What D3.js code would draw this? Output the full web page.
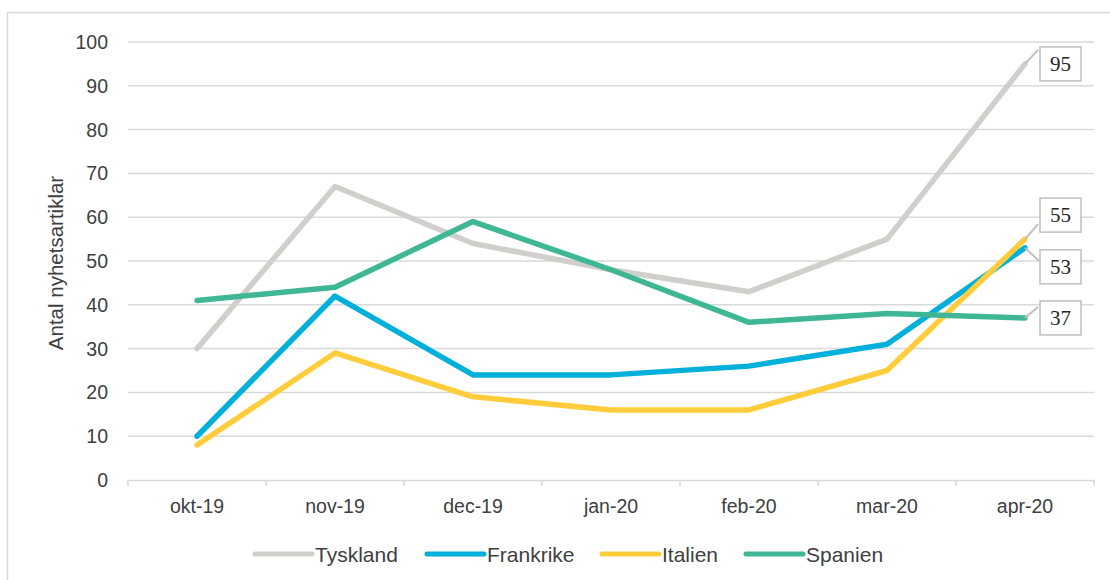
<!DOCTYPE html>
<html>
<head>
<meta charset="utf-8">
<script src="https://cdn.jsdelivr.net/npm/d3@7"></script>
<style>
  body { margin: 0; background: #fff; }
  text { font-family: "Liberation Sans", Arial, sans-serif; fill: #404040; }
  .callout text { font-family: "Liberation Serif", "Times New Roman", serif; fill: #262626; }
</style>
</head>
<body>
<svg id="chart" width="1110" height="580"></svg>
<script>
// data
const months = ["okt-19", "nov-19", "dec-19", "jan-20", "feb-20", "mar-20", "apr-20"]
const tyskland = [30, 67, 54, 48, 43, 55, 95]
const frankrike = [10, 42, 24, 24, 26, 31, 53]
const italien = [8, 29, 19, 16, 16, 25, 55]
const spanien = [41, 44, 59, 48, 36, 38, 37]
const seriesNames = ["Tyskland", "Frankrike", "Italien", "Spanien"]
const yTicks = [0, 10, 20, 30, 40, 50, 60, 70, 80, 90, 100]

const series = [
    {name: "Tyskland", values: tyskland, color: "#d0cfcb"},
    {name: "Frankrike", values: frankrike, color: "#00b0da"},
    {name: "Italien", values: italien, color: "#ffcd3c"},
    {name: "Spanien", values: spanien, color: "#3fb795"}
]

const svg = d3.select("#chart")

// outer frame
svg.append("rect")
    .attr("x", 7.5).attr("y", 12.5)
    .attr("width", 1130).attr("height", 600)
    .attr("fill", "none").attr("stroke", "#d9d9d9").attr("stroke-width", 1.5)

let x = d3.scaleBand().domain(months).range([128, 1094])
let y = d3.scaleLinear().domain([0, 100]).range([480, 42])
const cx = d => x(d) + x.bandwidth() / 2

// gridlines
svg.append("g").selectAll("line")
    .data(yTicks.filter(d => d > 0))
    .enter().append("line")
    .attr("x1", 128).attr("x2", 1094)
    .attr("y1", d => y(d)).attr("y2", d => y(d))
    .attr("stroke", "#d9d9d9").attr("stroke-width", 1.5)

// y tick labels
svg.append("g").selectAll("text")
    .data(yTicks)
    .enter().append("text")
    .attr("x", 108).attr("y", d => y(d))
    .attr("dy", "0.36em")
    .attr("text-anchor", "end")
    .style("font-size", "19.5px")
    .text(d => d)

// x axis
let x_axis = d3.axisBottom(x).tickSize(0).tickPadding(0)
let xg = svg.append("g").attr("transform", "translate(0,480)").call(x_axis)
xg.select(".domain").attr("stroke", "#d9d9d9").attr("stroke-width", 1.5)
xg.selectAll(".tick text").remove()
// ticks at band edges
svg.append("g").selectAll("line")
    .data(months.concat(["end"]))
    .enter().append("line")
    .attr("x1", (d, i) => i < months.length ? x(d) : x.range()[1])
    .attr("x2", (d, i) => i < months.length ? x(d) : x.range()[1])
    .attr("y1", 480).attr("y2", 486)
    .attr("stroke", "#d9d9d9").attr("stroke-width", 1.5)

svg.append("g").selectAll("text")
    .data(months)
    .enter().append("text")
    .attr("x", d => cx(d)).attr("y", 513)
    .attr("text-anchor", "middle")
    .style("font-size", "19.5px")
    .text(d => d)

// y axis title
svg.append("text")
    .attr("transform", "translate(63,263) rotate(-90)")
    .attr("text-anchor", "middle")
    .style("font-size", "20.5px")
    .text("Antal nyhetsartiklar")

// lines
let line = d3.line().x((d, i) => cx(months[i])).y(d => y(d))
svg.append("g").selectAll("path")
    .data(series)
    .enter().append("path")
    .attr("d", d => line(d.values))
    .attr("fill", "none")
    .attr("stroke", d => d.color)
    .attr("stroke-width", 5.5)
    .attr("stroke-linejoin", "round")
    .attr("stroke-linecap", "round")

// callouts at last point
const last = months.length - 1
const calloutLayout = {
    "Tyskland": {dy: 0, lead: [13, -14]},
    "Frankrike": {dy: 19, lead: [14, 13]},
    "Italien": {dy: -24, lead: [13, -15]},
    "Spanien": {dy: 0, lead: [13, -11]}
}
const boxW = 41, boxH = 34
let callouts = svg.append("g").attr("class", "callout")
series.forEach(s => {
    const px = cx(months[last]), py = y(s.values[last])
    const lay = calloutLayout[s.name]
    const bx = px + 15, by = py + lay.dy - boxH / 2
    callouts.append("line")
        .attr("x1", px).attr("y1", py)
        .attr("x2", px + lay.lead[0]).attr("y2", py + lay.lead[1])
        .attr("stroke", "#bfbfbf").attr("stroke-width", 2)
    callouts.append("rect")
        .attr("x", bx).attr("y", by)
        .attr("width", boxW).attr("height", boxH)
        .attr("fill", "#fff").attr("stroke", "#bfbfbf").attr("stroke-width", 1.5)
    callouts.append("text")
        .attr("x", bx + boxW / 2).attr("y", by + boxH / 2)
        .attr("dy", "0.35em")
        .attr("text-anchor", "middle")
        .style("font-size", "21px")
        .text(s.values[last])
})

// legend
const legendX = [255, 427, 602, 746]
let legend = svg.append("g").selectAll("g")
    .data(series)
    .enter().append("g")
    .attr("transform", (d, i) => `translate(${legendX[i]},554)`)
legend.append("line")
    .attr("x1", 0).attr("x2", 57)
    .attr("stroke", d => d.color)
    .attr("stroke-width", 5)
    .attr("stroke-linecap", "round")
legend.append("text")
    .attr("x", 60).attr("dy", "0.36em")
    .style("font-size", "21px")
    .text(d => d.name)
</script>
</body>
</html>
